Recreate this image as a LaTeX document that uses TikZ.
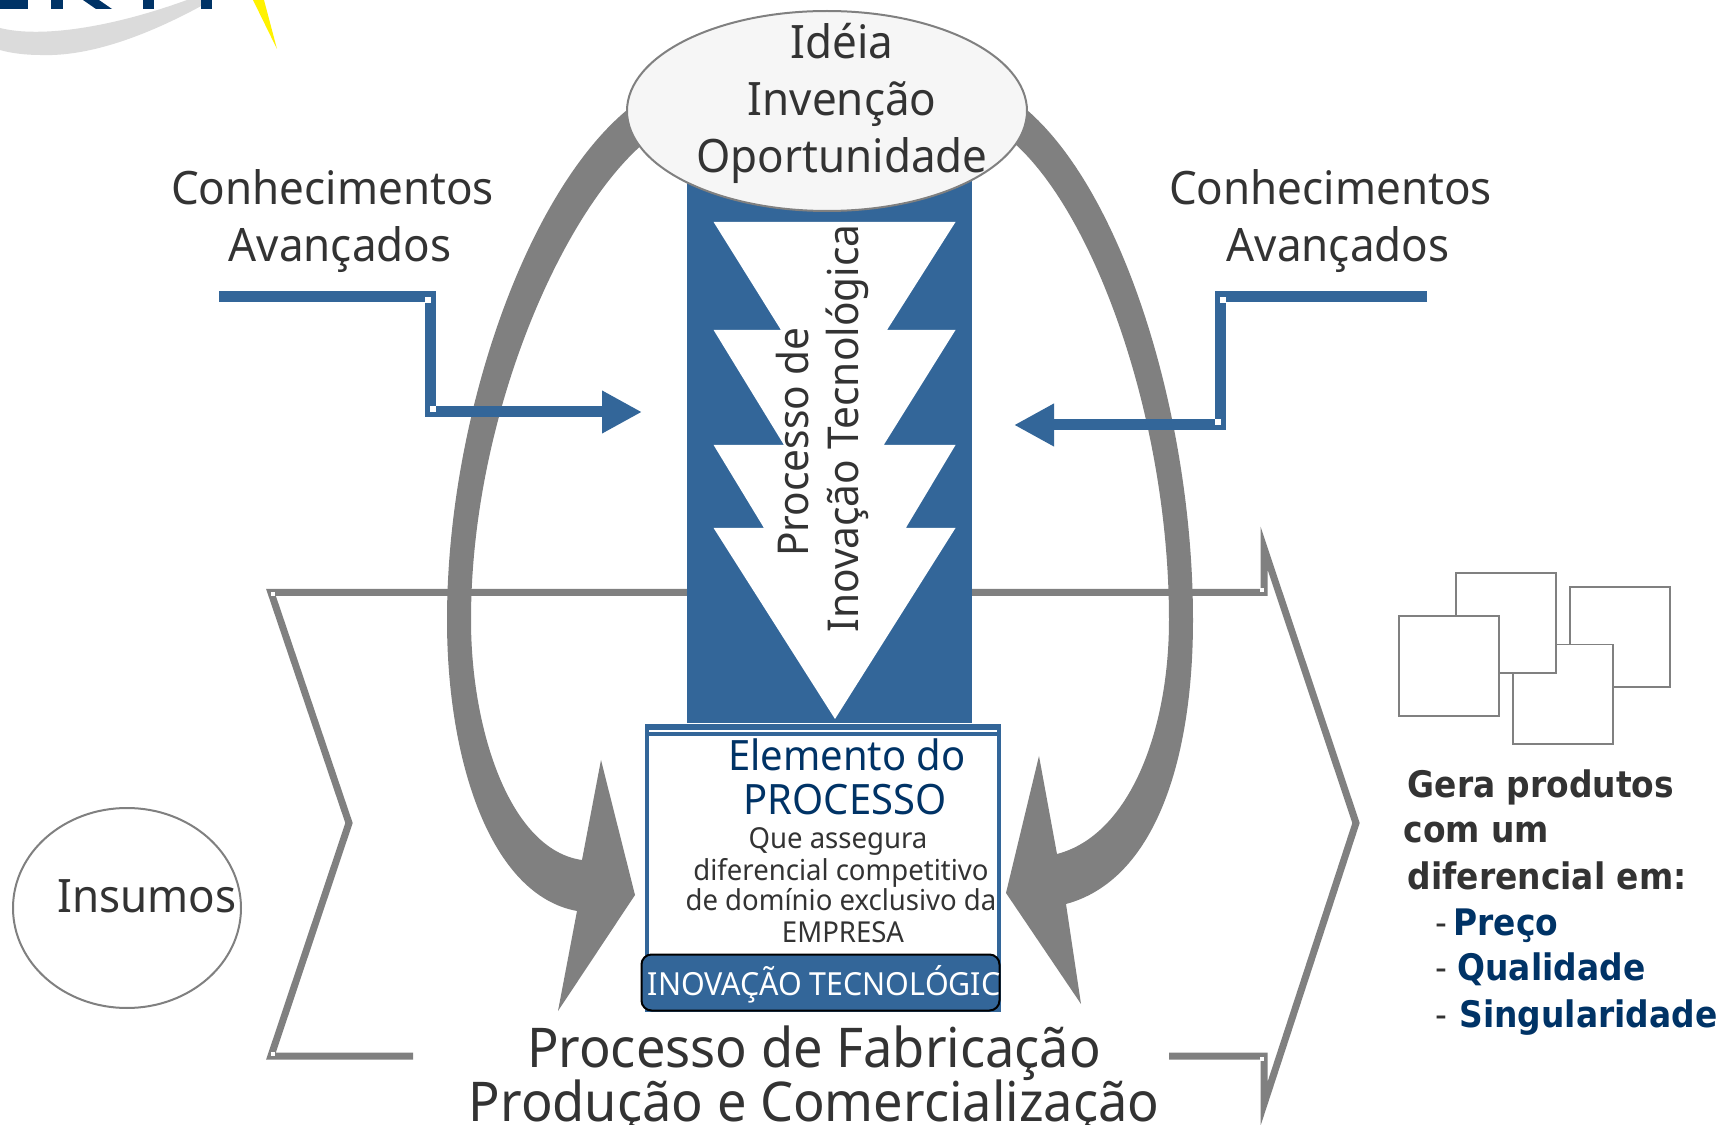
\documentclass[tikz,border=0pt]{standalone}
\usepackage{fontspec}
\setmainfont{Noto Sans}[FakeStretch=0.955]
\newfontfamily\sidefont{DejaVu Sans}[FakeStretch=0.9]
\usetikzlibrary{arrows.meta, shapes.geometric}
\definecolor{procblue}{HTML}{336699}
\definecolor{navyblue}{HTML}{003366}
\definecolor{archgray}{HTML}{808080}
\definecolor{textgray}{HTML}{333333}
\tikzset{
	bigtext/.style={anchor=base, inner sep=0pt, text=textgray, font=\fontsize{13.1}{15}\selectfont},
	treetext/.style={anchor=base, inner sep=0pt, text=textgray, rotate=90, font=\fontsize{12.1}{14}\selectfont},
	hugetext/.style={anchor=base, inner sep=0pt, text=textgray, font=\fontsize{15.6}{18}\selectfont},
	boxtitle/.style={anchor=base, inner sep=0pt, text=navyblue, font=\fontsize{11.9}{14}\selectfont},
	boxtext/.style={anchor=base, inner sep=0pt, text=textgray, font=\fontsize{8.2}{10}\selectfont},
	sidetext/.style={anchor=base west, inner sep=0pt, text=textgray, font=\sidefont\bfseries\fontsize{10.4}{12}\selectfont},
	sheet/.style={shape=rectangle, draw=archgray, line width=0.2mm, fill=white, inner sep=0pt, minimum width=10mm, minimum height=10mm},
	bluewire/.style={draw=procblue, line width=1.1mm},
	graywire/.style={draw=archgray, line width=0.7mm},
	cornerdot/.style={shape=rectangle, fill=white, inner sep=0pt, minimum size=0.45mm}
}

\begin{document}
\begin{tikzpicture}[x=0.1mm, y=-0.1mm]
	\clip (0, 0) rectangle (1732, 1125);
	\fill[white] (0, 0) rectangle (1732, 1125);
	% Logo, cut by the top edge:

	\fill[gray!28] (0, 28) .. controls (40, 38) and (110, 28) .. (187, 0) -- (212, 0) .. controls (150, 35) and (90, 57) .. (40, 55) .. controls (25, 55) and (10, 53) .. (0, 50) -- cycle;
	\fill[navyblue] (0, 0) rectangle (28, 9);
	\fill[navyblue] (51, 0) rectangle (63, 9);
	\fill[navyblue] (83, 0) -- (99, 0) -- (112, 9) -- (96, 9) -- cycle;
	\fill[navyblue] (143, 0) rectangle (154, 9);
	\fill[navyblue] (201, 0) rectangle (212, 9);
	\fill[yellow] (253, 0) -- (264, 0) -- (277, 49) -- cycle;

	% Big gray arcs:

	\fill[archgray] (627, 110) .. controls (525, 195) and (447, 420) .. (447, 620) .. controls (447, 760) and (490, 895) .. (577, 911) -- (558, 1011) -- (635, 895) -- (601, 760) -- (582, 860) .. controls (510, 850) and (471, 730) .. (471, 620) .. controls (471, 420) and (560, 215) .. (644, 143) -- cycle;
	\fill[archgray] (1027, 110) .. controls (1125, 195) and (1193, 420) .. (1193, 620) .. controls (1193, 760) and (1155, 880) .. (1066, 904) -- (1081, 1004) -- (1006, 893) -- (1039, 756) -- (1057, 854) .. controls (1130, 835) and (1169, 730) .. (1169, 620) .. controls (1169, 420) and (1095, 215) .. (1014, 143) -- cycle;

	% Process outline:

	\coordinate (inL) at (413, 1056);
	\coordinate (inM) at (349, 823);
	\coordinate (inT) at (271, 592.5);
	\coordinate (inB) at (271, 1056);
	\coordinate (inE) at (700, 592.5);
	\coordinate (outS) at (960, 592.5);
	\coordinate (outT) at (1264, 592.5);
	\coordinate (outA) at (1264, 548);
	\coordinate (outM) at (1356, 823);
	\coordinate (outC) at (1264, 1104);
	\coordinate (outB) at (1264, 1056);
	\coordinate (outE) at (1169, 1056);
	\draw[graywire] (inL) -- (inB) -- (inM) -- (inT) -- (inE);
	\draw[graywire] (outS) -- (outT) -- (outA) -- (outM) -- (outC) -- (outB) -- (outE);
	\node[cornerdot](D1) at (273, 594){};
	\node[cornerdot](D2) at (273, 1054){};
	\node[cornerdot](D3) at (1262, 590){};
	\node[cornerdot](D4) at (1262, 1059){};

	% Central column and tree:

	\node[shape=rectangle, fill=procblue, inner sep=0pt, minimum width=28.5mm, minimum height=54.3mm](column) at (829.5, 451.5){};
	\fill[white] (713.6, 222) -- (955.5, 222) -- (887, 330) -- (955.5, 330) -- (883.7, 445) -- (955.5, 445) -- (905.8, 528) -- (955.5, 528) -- (835, 719) -- (713.6, 528) -- (764, 528) -- (713.6, 445) -- (784, 445) -- (713.6, 330) -- (781, 330) -- cycle;
	\node[treetext](treeA) at (808.6, 442){Processo de};
	\node[treetext](treeB) at (858, 428.6){Inovação Tecnológica};

	% Idea ellipse:

	\node[shape=ellipse, draw=archgray, fill=gray!7, line width=0.2mm, inner sep=0pt, minimum width=40mm, minimum height=20mm](idea) at (827, 111){};
	\node[bigtext](ideaA) at (842, 59){Idéia};
	\node[bigtext](ideaB) at (842, 116){Invenção};
	\node[bigtext](ideaC) at (842, 173){Oportunidade};

	% Knowledge inputs:

	\node[bigtext](knowLA) at (332.5, 205){Conhecimentos};
	\node[bigtext](knowLB) at (340, 262){Avançados};
	\node[bigtext](knowRA) at (1330.5, 205){Conhecimentos};
	\node[bigtext](knowRB) at (1338, 262){Avançados};
	\coordinate (knowL) at (219, 297);
	\coordinate (kneeLA) at (430.5, 297);
	\coordinate (kneeLB) at (430.5, 412);
	\coordinate (tipL) at (642, 412);
	\coordinate (knowR) at (1427, 297);
	\coordinate (kneeRA) at (1220.5, 297);
	\coordinate (kneeRB) at (1220.5, 425);
	\coordinate (tipR) at (1014, 425);
	\draw[bluewire, -{Triangle[length=4mm, width=4mm]}] (knowL) -- (kneeLA) -- (kneeLB) -- (tipL);
	\draw[bluewire, -{Triangle[length=4mm, width=4mm]}] (knowR) -- (kneeRA) -- (kneeRB) -- (tipR);
	\node[cornerdot, minimum size=0.55mm](D5) at (428, 300){};
	\node[cornerdot, minimum size=0.55mm](D6) at (433, 409){};
	\node[cornerdot, minimum size=0.55mm](D7) at (1223, 300){};
	\node[cornerdot, minimum size=0.55mm](D8) at (1218, 422){};

	% Element box:

	\node[shape=rectangle, draw=procblue, fill=white, line width=0.45mm, inner sep=0pt, minimum width=35.2mm, minimum height=28.4mm](element) at (823, 868){};
	\fill[procblue] (645, 724) rectangle (1001, 736);
	\fill[white] (649, 730) rectangle (997, 732);
	\fill[procblue] (645, 980) rectangle (1001, 1012);
	\node[boxtitle](elemA) at (847, 771){Elemento do};
	\node[boxtitle](elemB) at (845, 815){PROCESSO};
	\node[boxtext](elemC) at (838, 849){Que assegura};
	\node[boxtext](elemD) at (841, 880){diferencial competitivo};
	\node[boxtext](elemE) at (841, 911){de domínio exclusivo da};
	\node[boxtext](elemF) at (843, 943){EMPRESA};
	\node[shape=rectangle, rounded corners=1mm, draw=black, fill=procblue, line width=0.2mm, inner sep=0pt, minimum width=35.8mm, minimum height=5.6mm](tech) at (820.5, 982.5){};
	\node[anchor=base west, inner sep=0pt, text=white, font=\fontsize{9.05}{12}\selectfont](techT) at (647, 995){INOVAÇÃO TECNOLÓGIC};

	% Bottom titles:

	\node[hugetext](makeA) at (814, 1067){Processo de Fabricação};
	\node[hugetext](makeB) at (814, 1121){Produção e Comercialização};

	% Inputs:

	\node[shape=ellipse, draw=archgray, line width=0.2mm, inner sep=0pt, minimum width=22.8mm, minimum height=20mm](input) at (127, 908){};
	\node[bigtext](inputT) at (147, 912){Insumos};

	% Products:

	\node[sheet](sheetC) at (1620.1, 637){};
	\node[sheet](sheetD) at (1562.6, 694.5){};
	\node[sheet](sheetB) at (1505.8, 623){};
	\node[sheet](sheetA) at (1448.5, 666.3){};
	\node[sidetext](sideA) at (1407, 797){Gera produtos};
	\node[sidetext](sideB) at (1403, 843){com um};
	\node[sidetext](sideC) at (1407, 889){diferencial em:};
	\node[sidetext, text=navyblue](sideD) at (1435, 935){{\mdseries\color{textgray}-}\hspace{0.6mm}Preço};
	\node[sidetext, text=navyblue](sideE) at (1435, 981){{\mdseries\color{textgray}-}\hspace{1mm}Qualidade};
	\node[sidetext, text=navyblue](sideF) at (1435, 1027){{\mdseries\color{textgray}-}\hspace{1.2mm}Singularidade};
\end{tikzpicture}
\end{document}
